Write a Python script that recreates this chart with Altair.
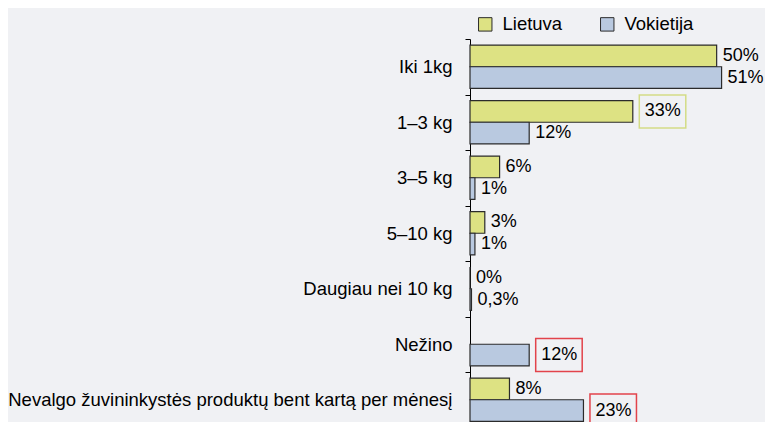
import altair as alt
import pandas as pd

categories = ["Iki 1kg", "1–3 kg", "3–5 kg", "5–10 kg", "Daugiau nei 10 kg", "Nežino",
              "Nevalgo žuvininkystės produktų bent kartą per mėnesį"]
series = ["Lietuva", "Vokietija"]
lietuva = [50, 33, 6, 3, 0, None, 8]
vokietija = [51, 12, 1, 1, 0.3, 12, 23]
lietuva_labels = ["50%", "33%", "6%", "3%", "0%", None, "8%"]
vokietija_labels = ["51%", "12%", "1%", "1%", "0,3%", "12%", "23%"]
# which labels are framed, and the frame colour
lietuva_box = [None, "#d3dc86", None, None, None, None, None]
vokietija_box = [None, None, None, None, None, "#e2434b", "#e2434b"]
colors = ["#dde283", "#b9c9e0"]

rows = []
for i, c in enumerate(categories):
    for s, vals, labs, boxes in [("Lietuva", lietuva, lietuva_labels, lietuva_box),
                                 ("Vokietija", vokietija, vokietija_labels, vokietija_box)]:
        if vals[i] is None:
            continue
        rows.append({"cat": c, "series": s, "value": vals[i], "label": labs[i],
                     "box": boxes[i] if boxes[i] else ""})
df = pd.DataFrame(rows)

FONT = "Liberation Sans"
FS = 18.5
VFS = 18

y_enc = alt.Y("cat:N", sort=categories,
              scale=alt.Scale(paddingInner=0, paddingOuter=0, range=[0, 388.5]),
              axis=alt.Axis(title=None, labelFont=FONT, labelFontSize=FS, labelColor="#000",
                            labelPadding=13, tickBand="extent", tickSize=5, tickColor="#000",
                            tickWidth=1, domainColor="#000", domainWidth=1, labelLimit=700))
yoff = alt.YOffset("series:N", sort=series,
                   scale=alt.Scale(domain=series, paddingInner=0, paddingOuter=0.28))
x_enc = alt.X("value:Q", scale=alt.Scale(domain=[0, 59.8], nice=False, zero=True), axis=None)

base = alt.Chart(df)

bars = base.mark_bar(stroke="#2b2b2b", strokeWidth=1.2).encode(
    x=x_enc, y=y_enc, yOffset=yoff,
    color=alt.Color("series:N", sort=series,
                    scale=alt.Scale(domain=series, range=colors),
                    legend=alt.Legend(title=None, orient="none", direction="horizontal",
                                      legendX=6, legendY=-24, symbolType="square",
                                      symbolSize=180, symbolStrokeColor="#2b2b2b",
                                      symbolStrokeWidth=1, symbolOpacity=1,
                                      labelFont=FONT, labelFontSize=FS, labelColor="#000",
                                      labelOffset=8, columnPadding=35, padding=0)),
)

plain = base.transform_filter(alt.datum.box == "").mark_text(
    align="left", baseline="middle", dx=6, font=FONT, fontSize=VFS, color="#000"
).encode(x=x_enc, y=y_enc, yOffset=yoff, text="label:N")

boxed_text = base.transform_filter(alt.datum.box != "").mark_text(
    align="left", baseline="middle", dx=12, font=FONT, fontSize=VFS, color="#000"
).encode(x=x_enc, y=y_enc, yOffset=yoff, text="label:N")

frames = base.transform_filter(alt.datum.box != "").mark_rect(
    fill=None, strokeWidth=1.5, xOffset=6.5, x2Offset=53, height=33
).encode(x=x_enc, x2="value:Q", y=y_enc, yOffset=yoff,
         stroke=alt.Stroke("box:N", scale=None))

chart = alt.layer(bars, frames, plain, boxed_text).properties(
    width=295, height=383,
    autosize=alt.AutoSizeParams(type="none"),
    padding={"left": 462, "top": 31, "right": 0, "bottom": 0},
    background="#f0f1f4",
).configure_view(stroke=None)

chart.save("out.html", embed_options={"renderer": "svg", "actions": False})
